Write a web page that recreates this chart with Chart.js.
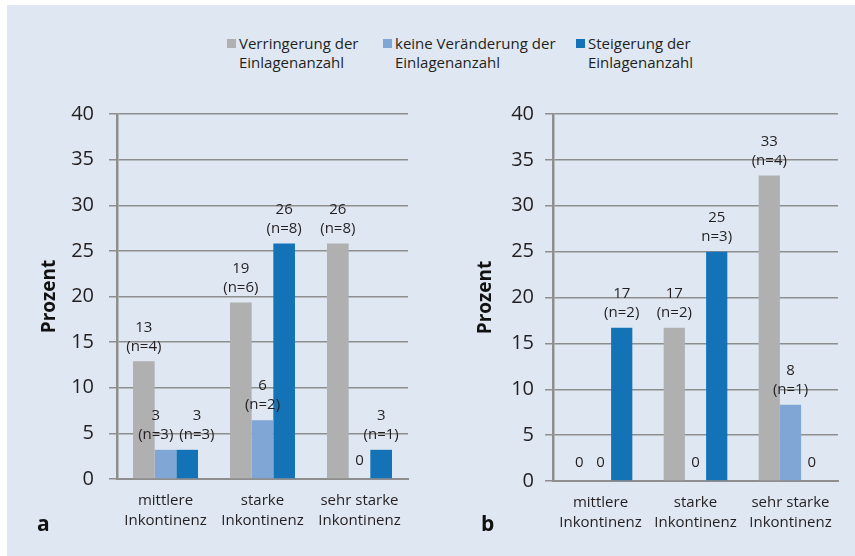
<!DOCTYPE html>
<html>

<head>
    <title>Einlagenanzahl nach Inkontinenzgrad</title>
    <script src="https://cdn.jsdelivr.net/npm/chart.js"></script>
    <style>
        body {
            background-color: #ffffff;
            font-family: "Open Sans", sans-serif;
            margin: 0;
            padding: 0;
            width: 855px;
            height: 556px;
            position: relative;
            overflow: hidden;
        }

        .panel {
            position: absolute;
            left: 7px;
            top: 5px;
            width: 848px;
            height: 551px;
            background-color: #dfe8f2;
        }

        .legend-item {
            position: absolute;
            top: 34px;
            font-size: 15px;
            line-height: 19px;
            color: #231f20;
        }

        .legend-item .box {
            position: absolute;
            left: -12px;
            top: 5px;
            width: 9px;
            height: 9px;
        }

        .chart-box {
            position: absolute;
            top: 84px;
        }

        .panel-letter {
            position: absolute;
            font-size: 21px;
            font-weight: bold;
            color: #111;
        }
    </style>
</head>

<body>
    <div class="panel"></div>

    <div class="legend-item" style="left: 239px;"><span class="box" style="background:#b0b0b0"></span>Verringerung der<br>Einlagenanzahl</div>
    <div class="legend-item" style="left: 395px;"><span class="box" style="background:#80a6d5"></span>keine Veränderung der<br>Einlagenanzahl</div>
    <div class="legend-item" style="left: 588px;"><span class="box" style="background:#1473b7"></span>Steigerung der<br>Einlagenanzahl</div>

    <div class="chart-box" style="left: 7px;"><canvas id="chartA" width="423" height="460"></canvas></div>
    <div class="chart-box" style="left: 430px;"><canvas id="chartB" width="425" height="460"></canvas></div>

    <div class="panel-letter" style="left: 37px; top: 509px;">a</div>
    <div class="panel-letter" style="left: 481px; top: 509px;">b</div>

    <script>
        // categories (multi-line tick labels)
        const categories = [['mittlere', 'Inkontinenz'], ['starke', 'Inkontinenz'], ['sehr starke', 'Inkontinenz']];
        const yTicks = [0, 5, 10, 15, 20, 25, 30, 35, 40];

        // panel a values (Prozent)
        const verringerungA = [12.9, 19.35, 25.8];
        const keineA = [3.2, 6.45, 0];
        const steigerungA = [3.2, 25.8, 3.2];

        // panel a value labels
        const verringerungLabelsA = ['13\n(n=4)', '19\n(n=6)', '26\n(n=8)'];
        const keineLabelsA = ['3\n(n=3)', '6\n(n=2)', '0'];
        const steigerungLabelsA = ['3\n(n=3)', '26\n(n=8)', '3\n(n=1)'];

        // panel b values (Prozent)
        const verringerungB = [0, 16.7, 33.3];
        const keineB = [0, 0, 8.3];
        const steigerungB = [16.7, 25, 0];

        // panel b value labels
        const verringerungLabelsB = ['0', '17\n(n=2)', '33\n(n=4)'];
        const keineLabelsB = ['0', '0', '8\n(n=1)'];
        const steigerungLabelsB = ['17\n(n=2)', '25\nn=3)', '0'];

        const colGray = '#b0b0b0';
        const colLight = '#80a6d5';
        const colBlue = '#1473b7';
        const gridCol = '#8e8e8e';
        const textCol = '#231f20';

        // draws the value / n labels above each bar, nudging neighbours apart when they collide
        const valueLabels = {
            id: 'valueLabels',
            afterDatasetsDraw(chart) {
                const ctx = chart.ctx;
                ctx.save();
                ctx.font = '15px "Open Sans"';
                ctx.fillStyle = textCol;
                ctx.textAlign = 'center';
                ctx.textBaseline = 'middle';

                const nCat = chart.data.labels.length;
                for (let j = 0; j < nCat; j++) {
                    const items = chart.data.datasets.map((ds, i) => {
                        const bar = chart.getDatasetMeta(i).data[j];
                        const lines = ds.valueLabels[j].split('\n');
                        const w = Math.max(...lines.map(l => ctx.measureText(l).width));
                        const yBottom = lines.length === 1 ? bar.y - 18 : bar.y - 15;
                        const yTop = lines.length === 1 ? yBottom : bar.y - 34;
                        return { lines, x: bar.x, w, yTop, yBottom };
                    });
                    for (let k = 0; k < items.length - 1; k++) {
                        const a = items[k], b = items[k + 1];
                        const vOverlap = a.yTop - 10 < b.yBottom + 10 && b.yTop - 10 < a.yBottom + 10;
                        const gap = (b.x - b.w / 2) - (a.x + a.w / 2);
                        if (vOverlap && a.lines.length > 1 && b.lines.length > 1 && gap < 6) {
                            const push = (6 - gap) / 2;
                            a.x -= push;
                            b.x += push;
                        }
                    }
                    items.forEach(it => {
                        if (it.lines.length === 1) {
                            ctx.fillText(it.lines[0], it.x, it.yBottom);
                        } else {
                            ctx.fillText(it.lines[0], it.x, it.yTop);
                            ctx.fillText(it.lines[1], it.x, it.yBottom);
                        }
                    });
                }
                ctx.restore();
            }
        };

        function makeChart(id, values, labels, yWidth, xHeight, tickPad, titlePad, rightPad) {
            const ctx = document.getElementById(id).getContext('2d');
            return new Chart(ctx, {
                type: 'bar',
                data: {
                    labels: categories,
                    datasets: [{
                        label: 'Verringerung der Einlagenanzahl',
                        data: values[0],
                        valueLabels: labels[0],
                        backgroundColor: colGray
                    }, {
                        label: 'keine Veränderung der Einlagenanzahl',
                        data: values[1],
                        valueLabels: labels[1],
                        backgroundColor: colLight
                    }, {
                        label: 'Steigerung der Einlagenanzahl',
                        data: values[2],
                        valueLabels: labels[2],
                        backgroundColor: colBlue
                    }]
                },
                options: {
                    responsive: false,
                    animation: false,
                    layout: {
                        padding: { top: 30, right: rightPad, left: 0, bottom: 0 }
                    },
                    datasets: {
                        bar: {
                            categoryPercentage: 0.67,
                            barPercentage: 1
                        }
                    },
                    plugins: {
                        legend: { display: false },
                        tooltip: { enabled: false }
                    },
                    scales: {
                        x: {
                            grid: { display: false, drawTicks: false },
                            border: { display: true, color: gridCol, width: 2 },
                            ticks: {
                                color: textCol,
                                padding: 12,
                                font: { family: 'Open Sans', size: 15, lineHeight: 1.3 }
                            },
                            afterFit(scale) { scale.height = xHeight; }
                        },
                        y: {
                            min: 0,
                            max: 40,
                            afterBuildTicks(scale) { scale.ticks = yTicks.map(v => ({ value: v })); },
                            grid: { color: gridCol, lineWidth: 1.5, tickLength: 8 },
                            border: { display: true, color: gridCol, width: 2.5 },
                            ticks: {
                                color: textCol,
                                padding: tickPad,
                                font: { family: 'Open Sans', size: 20 }
                            },
                            title: {
                                display: true,
                                text: 'Prozent',
                                color: '#111',
                                padding: { top: titlePad, bottom: 0 },
                                font: { family: 'Open Sans', size: 19, weight: 'bold' }
                            },
                            afterFit(scale) { scale.width = yWidth; }
                        }
                    }
                },
                plugins: [valueLabels]
            });
        }

        makeChart('chartA',
            [verringerungA, keineA, steigerungA],
            [verringerungLabelsA, keineLabelsA, steigerungLabelsA],
            110, 65, 15, 31, 22);

        makeChart('chartB',
            [verringerungB, keineB, steigerungB],
            [verringerungLabelsB, keineLabelsB, steigerungLabelsB],
            123, 63, 11, 44, 17);
    </script>
</body>

</html>
